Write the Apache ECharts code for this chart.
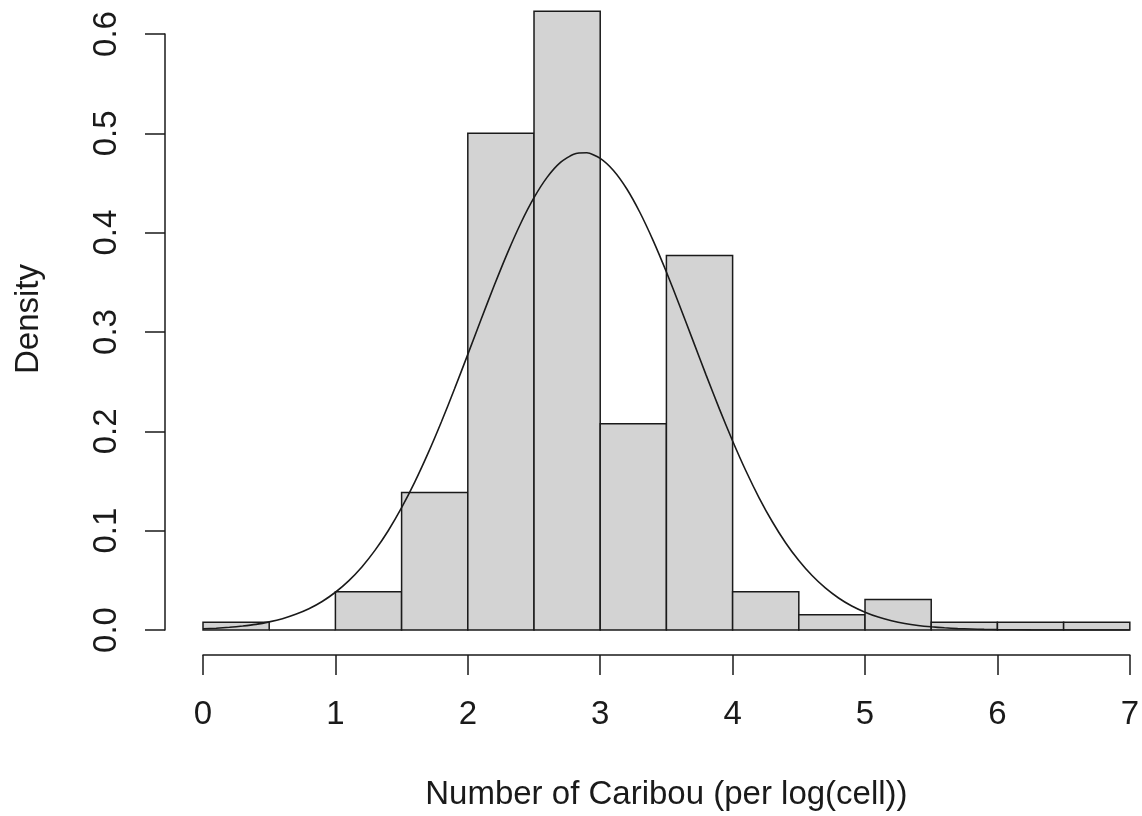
<!DOCTYPE html>
<html>
<head>
    <meta charset="UTF-8">
    <title>Number of Caribou</title>
    <script src="https://cdn.jsdelivr.net/npm/echarts@6/dist/echarts.min.js"></script>
    <style>
        html, body { margin: 0; padding: 0; background: #fff; }
        #main { width: 1142px; height: 816px; }
    </style>
</head>
<body>
<div id="main"></div>
<script type="text/javascript">
    // histogram bins (width 0.5) and their densities
    var binStarts = [0, 0.5, 1, 1.5, 2, 2.5, 3, 3.5, 4, 4.5, 5, 5.5, 6, 6.5];
    var binEnds   = [0.5, 1, 1.5, 2, 2.5, 3, 3.5, 4, 4.5, 5, 5.5, 6, 6.5, 7];
    var densities = [0.0077, 0, 0.0385, 0.1385, 0.5, 0.623, 0.2077, 0.3769,
                     0.0385, 0.0154, 0.0308, 0.0077, 0.0077, 0.0077];

    // fitted density curve, every 0.1
    var curveX = [0, 0.1, 0.2, 0.3, 0.4, 0.5, 0.6, 0.7, 0.8, 0.9,
                  1, 1.1, 1.2, 1.3, 1.4, 1.5, 1.6, 1.7, 1.8, 1.9,
                  2, 2.1, 2.2, 2.3, 2.4, 2.5, 2.6, 2.7, 2.8, 2.9,
                  3, 3.1, 3.2, 3.3, 3.4, 3.5, 3.6, 3.7, 3.8, 3.9,
                  4, 4.1, 4.2, 4.3, 4.4, 4.5, 4.6, 4.7, 4.8, 4.9,
                  5, 5.1, 5.2, 5.3, 5.4, 5.5, 5.6, 5.7, 5.8, 5.9,
                  6, 6.25, 6.5, 7];
    var curveY = [0.0012, 0.0018, 0.0027, 0.0040, 0.0057, 0.0082, 0.0114, 0.0158, 0.0214, 0.0287,
                  0.0380, 0.0495, 0.0635, 0.0804, 0.1002, 0.1231, 0.1491, 0.1780, 0.2094, 0.2428,
                  0.2775, 0.3126, 0.3470, 0.3797, 0.4095, 0.4352, 0.4559, 0.4707, 0.4790, 0.4804,
                  0.4748, 0.4626, 0.4442, 0.4203, 0.3920, 0.3604, 0.3265, 0.2916, 0.2566, 0.2226,
                  0.1903, 0.1603, 0.1331, 0.1090, 0.0879, 0.0699, 0.0548, 0.0423, 0.0322, 0.0241,
                  0.0179, 0.0130, 0.0094, 0.0066, 0.0046, 0.0032, 0.0022, 0.0014, 0.0010, 0.0006,
                  0.0004, 0.0001, 0.0000, 0];

    var xTicks = [0, 1, 2, 3, 4, 5, 6, 7];
    var yTicks = [0, 0.1, 0.2, 0.3, 0.4, 0.5, 0.6];

    var font = '"Liberation Sans", Arial, Helvetica, sans-serif';
    var ink = '#1a1a1a';

    var histData = [];
    for (var i = 0; i < densities.length; i++) {
        histData.push([binStarts[i], binEnds[i], densities[i]]);
    }
    var curveData = [];
    for (var j = 0; j < curveX.length; j++) {
        curveData.push([curveX[j], curveY[j]]);
    }

    var myChart = echarts.init(document.getElementById('main'));

    var option = {
        animation: false,
        backgroundColor: '#ffffff',
        grid: { left: 203, right: 9, top: 34, bottom: 182 },
        xAxis: {
            type: 'value',
            min: xTicks[0],
            max: xTicks[xTicks.length - 1],
            interval: 1,
            offset: 25,
            name: 'Number of Caribou (per log(cell))',
            nameLocation: 'middle',
            nameGap: 123,
            nameTextStyle: { fontFamily: font, fontSize: 33, color: ink },
            axisLine: { onZero: false, lineStyle: { color: ink, width: 1.5 } },
            axisTick: { length: 20, lineStyle: { color: ink, width: 1.5 } },
            axisLabel: {
                margin: 43,
                fontFamily: font, fontSize: 33, color: ink,
                formatter: function (v) { return String(v); }
            },
            splitLine: { show: false }
        },
        yAxis: {
            type: 'value',
            min: yTicks[0],
            max: yTicks[yTicks.length - 1],
            interval: 0.1,
            offset: 38,
            name: 'Density',
            nameLocation: 'middle',
            nameGap: 120,
            nameTextStyle: {
                fontFamily: font, fontSize: 33, color: ink,
                padding: [0, 0, 0, 26]
            },
            axisLine: { show: true, onZero: false, lineStyle: { color: ink, width: 1.5 } },
            axisTick: { show: true, length: 20, lineStyle: { color: ink, width: 1.5 } },
            axisLabel: {
                rotate: 90,
                margin: 42,
                fontFamily: font, fontSize: 33, color: ink,
                formatter: function (v) { return v.toFixed(1); }
            },
            splitLine: { show: false }
        },
        series: [
            {
                name: 'hist',
                type: 'custom',
                clip: false,
                data: histData,
                encode: { x: [0, 1], y: 2 },
                renderItem: function (params, api) {
                    var p0 = api.coord([api.value(0), api.value(2)]);
                    var p1 = api.coord([api.value(1), 0]);
                    return {
                        type: 'rect',
                        shape: { x: p0[0], y: p0[1], width: p1[0] - p0[0], height: p1[1] - p0[1] },
                        style: { fill: '#d3d3d3', stroke: ink, lineWidth: 1.5 }
                    };
                }
            },
            {
                name: 'normal',
                type: 'line',
                data: curveData,
                smooth: 0.2,
                showSymbol: false,
                symbol: 'none',
                lineStyle: { color: ink, width: 1.6 },
                z: 5
            }
        ]
    };

    myChart.setOption(option);
</script>
</body>
</html>
